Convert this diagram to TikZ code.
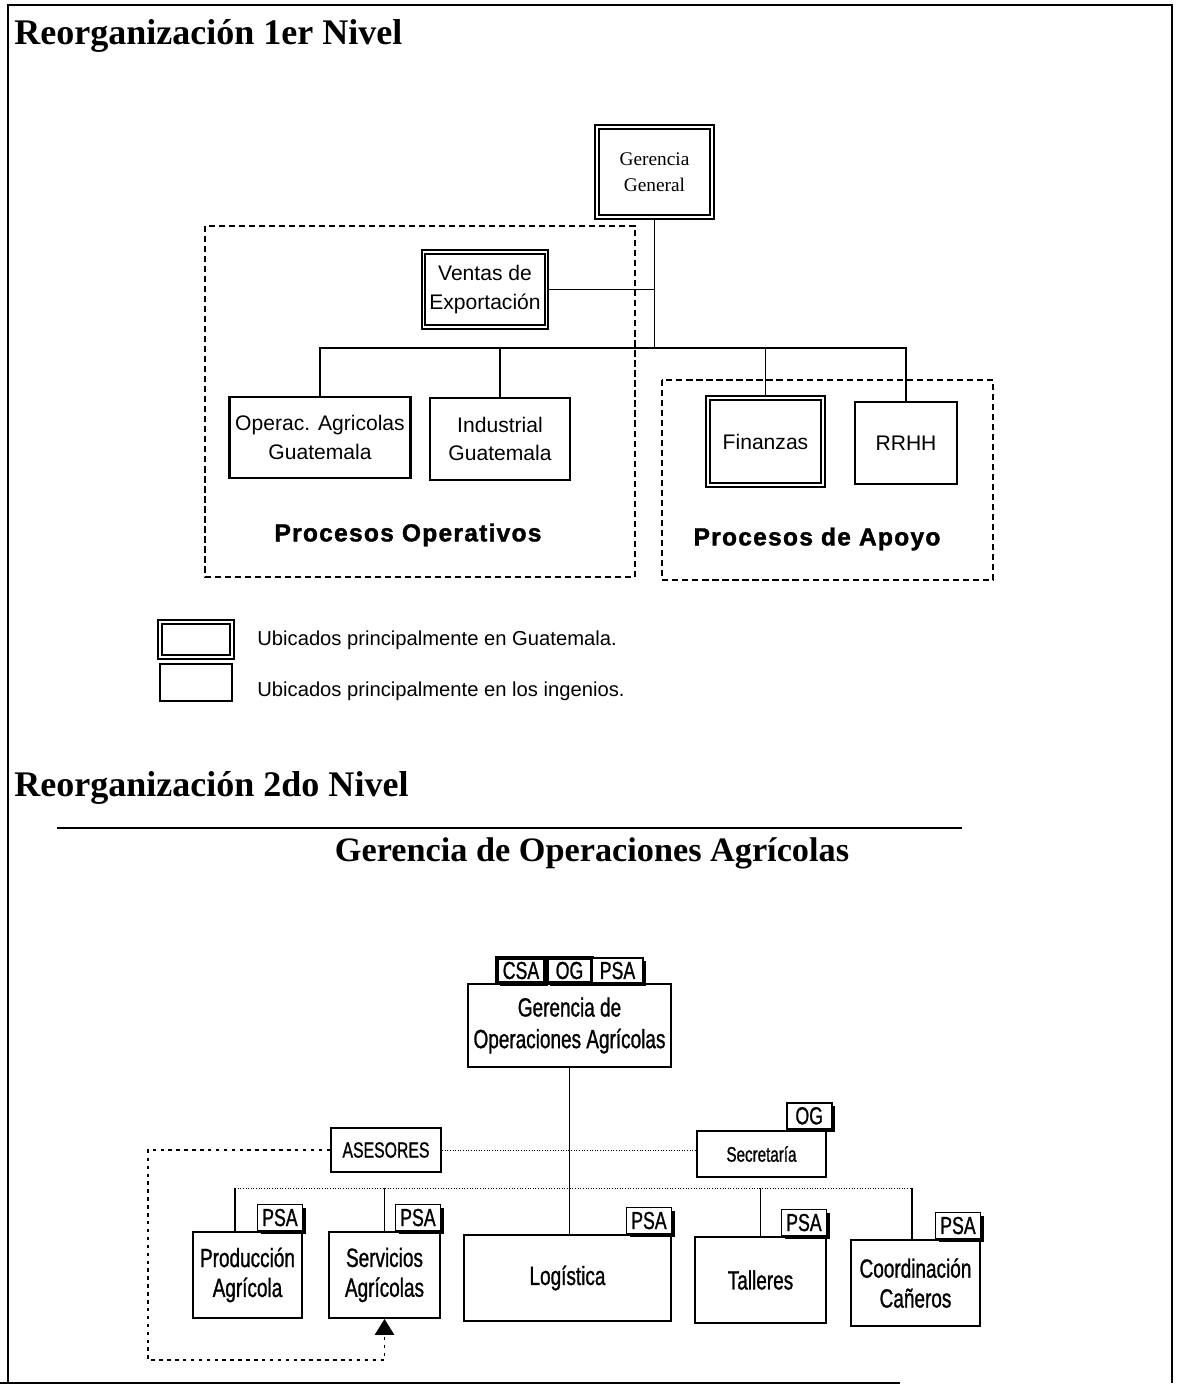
\documentclass[tikz,border=0pt]{standalone}
\usepackage{fontspec}
\setmainfont{Liberation Serif}
\newfontfamily\arialish{Liberation Sans}
\newfontfamily\narrowish[FakeStretch=0.72,FakeBold=1]{Liberation Sans}
\newfontfamily\blackish[LetterSpace=5,FakeBold=1.5]{Liberation Sans Bold}
\usepackage{tikz}
\usetikzlibrary{arrows.meta, positioning, shadows}

\begin{document}
\begin{tikzpicture}[x=0.02cm, y=-0.02cm, font=\arialish\fontsize{12}{16}\selectfont,
  title/.style={font=\rmfamily\bfseries\fontsize{20.5}{24}\selectfont, anchor=west, inner sep=0pt},
  hq/.style={draw, line width=1.1pt, double, double distance=1pt, align=center},
  mill/.style={draw, line width=1.3pt, align=center},
  group/.style={draw, line width=0.8pt, dash pattern=on 3.5pt off 2.2pt},
  grouplbl/.style={font=\blackish\fontsize{14}{16}\selectfont},
  keytxt/.style={anchor=west, inner sep=0pt, font=\arialish\fontsize{11.5}{14}\selectfont},
  unit/.style={draw, line width=1.1pt, align=center, minimum height=1.72cm, font=\narrowish\fontsize{15}{17}\selectfont},
  tag/.style={draw, line width=0.6pt, fill=white, inner sep=0pt, minimum width=0.9cm, minimum height=0.52cm,
    font=\narrowish\fontsize{14}{14}\selectfont,
    drop shadow={shadow xshift=1.8pt, shadow yshift=-1.8pt, fill=black, opacity=1}},
  link/.style={line width=1pt},
  thinlink/.style={line width=0.7pt},
  faint/.style={line width=0.5pt, densely dotted},
  loopline/.style={line width=0.6pt, dash pattern=on 2pt off 2.5pt}]
  \useasboundingbox (0,0) rectangle (1183,1388);
  \draw[line width=1pt] (8,1383) |- (1172,5) -- (1172,1383);
  \draw[line width=1.2pt] (0,1383) -- (900,1383);

  \node[title] (lvl1) at (14,36) {Reorganización 1er Nivel};
  \draw[group] (205,226) rectangle (635,577);
  \draw[group] (662,380) rectangle (993,580);
  \node[hq, minimum width=2.3cm, minimum height=1.8cm, font=\rmfamily\fontsize{11}{15}\selectfont] (gg) at (654.5,172) {Gerencia\\General};
  \node[hq, minimum width=2.28cm, minimum height=1.5cm] (vent) at (485,289.5) {Ventas de\\Exportación};
  \node[mill, minimum width=3.56cm, minimum height=1.62cm] (opag) at (320,437.5) {Operac. Agricolas\\Guatemala};
  \node[mill, minimum width=2.8cm, minimum height=1.64cm] (indg) at (500,439) {Industrial\\Guatemala};
  \node[hq, minimum width=2.3cm, minimum height=1.74cm] (fin) at (765.5,441.5) {Finanzas};
  \node[mill, minimum width=2.04cm, minimum height=1.64cm] (rrhh) at (906,443) {RRHH};
  \node[grouplbl] (opslbl) at (408,535) {Procesos Operativos};
  \node[grouplbl] (apolbl) at (817,539) {Procesos de Apoyo};

  \coordinate (hub) at (654.5,348);
  \draw[link] (gg) -- (hub);
  \draw[link] (vent.east) -- (vent.east -| hub);
  \draw[link] (opag.north) |- (hub) -| (rrhh.north);
  \draw[link] (indg.north) -- (indg.north |- hub);
  \draw[link] (fin.north) -- (fin.north |- hub);

  \node[hq, minimum width=1.44cm, minimum height=0.7cm] (keyhq) at (196,639.5) {};
  \node[mill, line width=0.8pt, minimum width=1.44cm, minimum height=0.74cm] (keymill) at (196,682.5) {};
  \node[keytxt] (keyhqtxt) at (257,640) {Ubicados principalmente en Guatemala.};
  \node[keytxt] (keymilltxt) at (257,691) {Ubicados principalmente en los ingenios.};

  \node[title] (lvl2) at (14,788) {Reorganización 2do Nivel};
  \draw[line width=1.5pt] (57,828) -- (962,828);
  \node[font=\rmfamily\bfseries\fontsize{19.5}{24}\selectfont] (goatitle) at (592,853) {Gerencia de Operaciones Agrícolas};

  \node[unit, minimum width=4.06cm, minimum height=1.66cm, font=\narrowish\fontsize{15}{18}\selectfont] (goa) at (569.5,1025.5) {Gerencia de\\Operaciones Agrícolas};
  \node[tag, line width=2.2pt, minimum width=0.96cm, minimum height=0.5cm] (csa) at (521,970.5) {CSA};
  \node[tag, line width=2.2pt, minimum height=0.5cm] (og) at (569.5,970.5) {OG};
  \node[tag, minimum width=1.02cm, minimum height=0.5cm] (psa) at (617.5,970.5) {PSA};

  \node[unit, minimum width=2.58cm, minimum height=0.92cm, font=\narrowish\fontsize{12}{14}\selectfont] (secr) at (761.5,1154) {Secretaría};
  \node[tag, line width=1.4pt, anchor=south east] (ogsec) at ([xshift=0.12cm]secr.north east) {OG};
  \node[unit, minimum width=2.2cm, minimum height=0.88cm, font=\narrowish\fontsize{12.5}{14}\selectfont] (ases) at (386,1150) {ASESORES};

  \foreach \nm/\x/\y/\w/\txt in {prod/247.5/1275/2.18/{Producción\\Agrícola}, serv/384.5/1275/2.22/{Servicios\\Agrícolas},
    logi/567.5/1278/4.14/{Logística}, tall/760.5/1280/2.62/{Talleres}, coord/915.5/1283/2.58/{Coordinación\\Cañeros}}{
    \node[unit, minimum width=\w cm] (\nm) at (\x,\y) {\txt};
    \node[tag, anchor=south east] (psa-\nm) at (\nm.north east) {PSA};
  }

  \coordinate (busL) at (235,1188);
  \coordinate (busR) at (912,1188);
  \draw[faint] (ases.east) -- (ases.east -| secr.west);
  \draw[faint] (busL) -- (busR);
  \draw[thinlink] (goa.south) -- (goa.south |- logi.north);
  \draw[thinlink] (busL) -- (busL |- prod.north);
  \foreach \nm in {serv,tall}
    \draw[thinlink] (\nm.north) -- (\nm.north |- busL);
  \draw[thinlink] (busR) -- (busR |- coord.north);

  \coordinate (loopcorner) at (148,1360);
  \draw[loopline, -{Triangle[width=11pt, length=9pt]}] (ases.west) -| (loopcorner) -| (serv.south);
\end{tikzpicture}
\end{document}
